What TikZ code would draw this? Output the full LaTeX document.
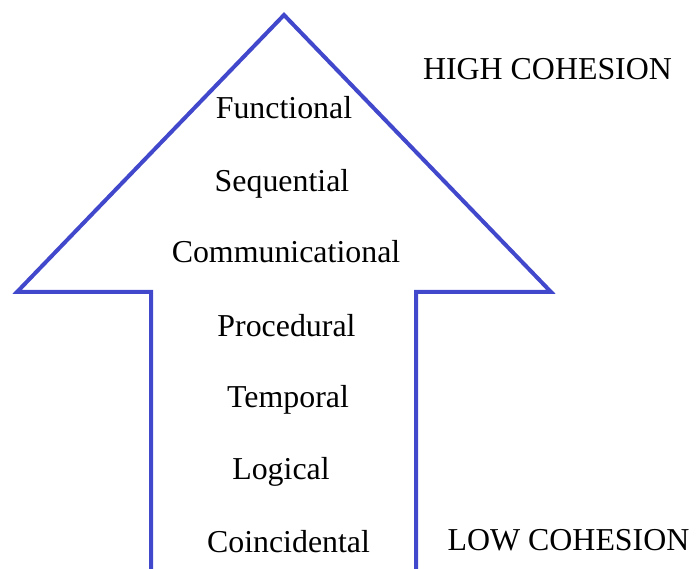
\documentclass[tikz,border=0pt]{standalone}
\usepackage{fontspec}
\setmainfont{Liberation Serif}
\definecolor{arrowcol}{RGB}{66,72,204}
\tikzset{
  level/.style={anchor=base,inner sep=0pt,font=\fontsize{32}{37}\selectfont},
  bigarrow/.style={draw=arrowcol,line width=4bp,line join=miter}
}
\begin{document}
\begin{tikzpicture}[x=1bp,y=1bp]
  \useasboundingbox (0bp,0bp) rectangle (697bp,569bp);
  % Arrow outline
  \coordinate (tip) at (284bp,554bp);
  \coordinate (wingR) at (551bp,277bp);
  \coordinate (shaftR) at (416bp,277bp);
  \coordinate (footR) at (416bp,-4bp);
  \coordinate (footL) at (151bp,-4bp);
  \coordinate (shaftL) at (151bp,277bp);
  \coordinate (wingL) at (17bp,277bp);
  \draw [bigarrow] (footR) -- (shaftR) -- (wingR) -- (tip) -- (wingL) -- (shaftL) -- (footL);
  % Levels
  \node [level] (functional) at (284bp,450bp) {Functional};
  \node [level] (sequential) at (282bp,377bp) {Sequential};
  \node [level] (communicational) at (286bp,306bp) {Communicational};
  \node [level] (procedural) at (286.5bp,232bp) {Procedural};
  \node [level] (temporal) at (288bp,161bp) {Temporal};
  \node [level] (logical) at (281bp,89bp) {Logical};
  \node [level] (coincidental) at (288.5bp,17bp) {Coincidental};
  % Ends of the scale
  \node [level] (high) at (547.5bp,489bp) {HIGH COHESION};
  \node [level] (low) at (568.5bp,19bp) {LOW COHESION};
\end{tikzpicture}
\end{document}
